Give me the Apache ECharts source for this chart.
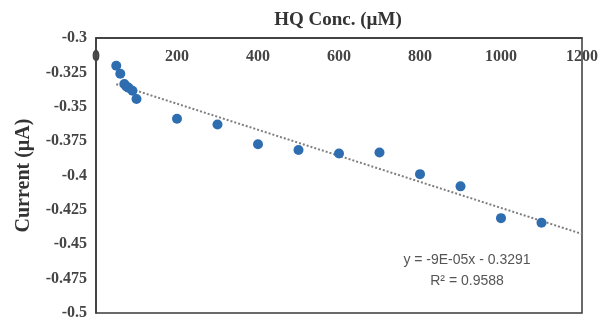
<!DOCTYPE html>
<html>
<head>
<meta charset="utf-8">
<script src="https://cdn.jsdelivr.net/npm/echarts@6/dist/echarts.min.js"></script>
<style>
  html, body { margin: 0; padding: 0; background: #fff; }
  #chart { width: 601px; height: 321px; }
</style>
</head>
<body>
<div id="chart"></div>
<script>
// HQ concentration (µM) vs current (µA)
const concentration = [50, 60, 70, 75, 80, 90, 100, 200, 300, 400, 500, 600, 700, 800, 900, 1000, 1100];
const current = [-0.3202, -0.326, -0.3335, -0.3352, -0.3361, -0.3383, -0.3443, -0.3587, -0.3629, -0.3773,
  -0.3814, -0.384, -0.3833, -0.399, -0.4079, -0.431, -0.4344];

// linear trendline end points
const trendX = [50, 1200];
const trendY = [-0.3336, -0.4425];

const equationText = "y = -9E-05x - 0.3291";
const r2Text = "R² = 0.9588";

const serif = "'Liberation Serif', 'DejaVu Serif', serif";
const sans = "'Liberation Sans', 'DejaVu Sans', sans-serif";

const chart = echarts.init(document.getElementById("chart"));

chart.setOption({
  animation: false,
  title: {
    text: "HQ Conc. (µM)",
    left: 333,
    top: 6,
    textAlign: "center",
    textStyle: { fontFamily: serif, fontWeight: "bold", fontSize: 19, color: "#333" },
  },
  grid: {
    left: 96,
    top: 38,
    right: 18,
    bottom: 6,
    show: true,
    borderColor: "#3a3a3a",
    borderWidth: 1.5,
  },
  xAxis: {
    type: "value",
    position: "top",
    min: 0,
    max: 1200,
    interval: 200,
    axisLine: { show: true, lineStyle: { color: "#3a3a3a", width: 1.5 } },
    axisTick: { show: false },
    splitLine: { show: false },
    axisLabel: {
      inside: true,
      margin: 11,
      fontFamily: serif,
      fontWeight: "bold",
      fontSize: 16,
      color: "#444",
      formatter: (v) => String(v),
    },
  },
  yAxis: {
    type: "value",
    min: -0.5,
    max: -0.3,
    interval: 0.025,
    name: "Current (µA)",
    nameLocation: "middle",
    nameGap: 62,
    nameTextStyle: { fontFamily: serif, fontWeight: "bold", fontSize: 20, color: "#333" },
    axisLine: { show: true, lineStyle: { color: "#3a3a3a", width: 1.5 } },
    axisTick: { show: false },
    splitLine: { show: false },
    axisLabel: {
      margin: 9,
      fontFamily: serif,
      fontWeight: "bold",
      fontSize: 16,
      color: "#444",
    },
  },
  series: [
    {
      type: "line",
      data: trendX.map((x, i) => [x, trendY[i]]),
      symbol: "none",
      lineStyle: { color: "#7f7f7f", width: 2, type: [2, 2] },
      z: 1,
    },
    {
      type: "scatter",
      data: concentration.map((x, i) => [x, current[i]]),
      symbolSize: 10,
      itemStyle: { color: "#2e6db0", opacity: 1 },
      z: 2,
    },
  ],
  graphic: [
    {
      type: "text",
      x: 467,
      y: 260,
      style: { text: equationText, fontFamily: sans, fontSize: 14, fill: "#555", align: "center", verticalAlign: "middle" },
    },
    {
      type: "text",
      x: 467,
      y: 281,
      style: { text: r2Text, fontFamily: sans, fontSize: 14, fill: "#555", align: "center", verticalAlign: "middle" },
    },
  ],
});
</script>
</body>
</html>
